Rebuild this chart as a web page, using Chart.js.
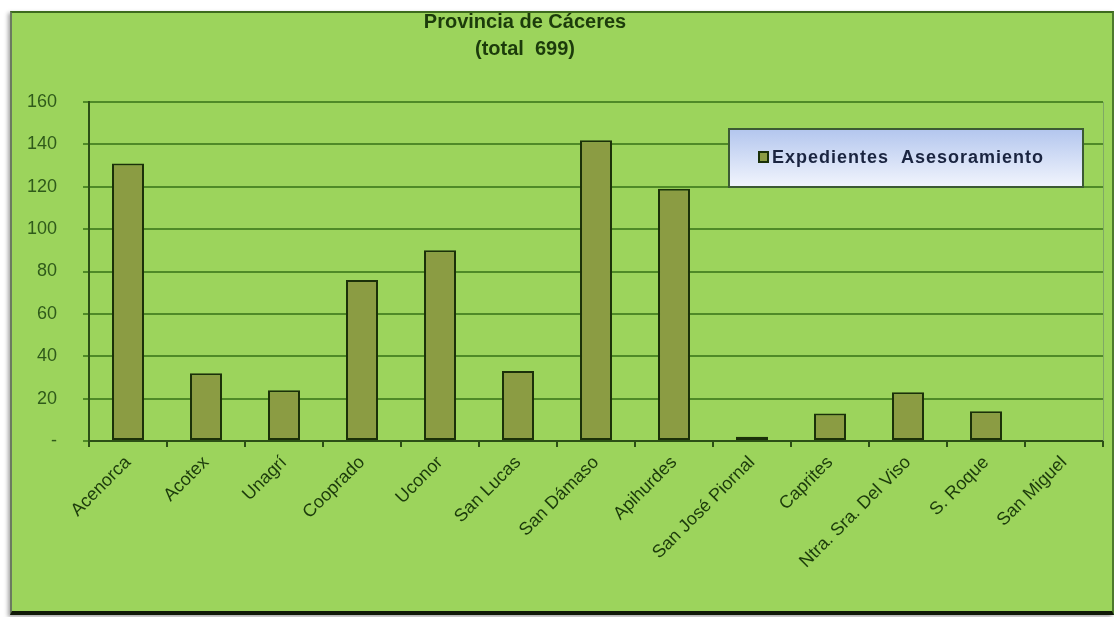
<!DOCTYPE html>
<html>
<head>
<meta charset="utf-8">
<script src="https://cdn.jsdelivr.net/npm/chart.js@4.4.1/dist/chart.umd.min.js"></script>
<style>
  body { margin: 0; background: #ffffff; }
  #panel {
    position: absolute; left: 10px; top: 11px;
    width: 1100px; height: 598px;
    background: #9cd45c;
    border-top: 2px solid #3d6a1e;
    border-left: 2px solid #6b7a60;
    border-right: 2px solid #4c7a2c;
    border-bottom: 4px solid #111a08;
    box-shadow: -2px 2px 4px rgba(0,0,0,0.35);
  }
  #wrap { position: relative; width: 1100px; height: 598px; }
</style>
</head>
<body>
<div id="panel"><div id="wrap"><canvas id="chart"></canvas></div></div>
<script>
// Chart data
const categories = ['Acenorca', 'Acotex', 'Unagrí', 'Cooprado', 'Uconor', 'San Lucas', 'San Dámaso',
    'Apihurdes', 'San José Piornal', 'Caprites', 'Ntra. Sra. Del Viso', 'S. Roque', 'San Miguel'];
const expedientes = [131, 32, 24, 76, 90, 33, 142, 119, 2, 13, 23, 14, 0];
const seriesName = 'Expedientes  Asesoramiento';
const titleLines = ['Provincia de Cáceres', '(total  699)'];
const yMax = 160;
const yStep = 20;

const textGreen = '#1c3b0b';
const gridGreen = '#4f8a27';
const barFill = '#8b9c43';
const barBorder = '#1b3009';

// Title, legend box and right frame line drawn on the canvas
const panelText = {
    id: 'panelText',
    beforeDatasetsDraw(chart) {
        const ctx = chart.ctx;
        const a = chart.chartArea;
        ctx.save();
        ctx.strokeStyle = '#7fa865';
        ctx.lineWidth = 1;
        ctx.beginPath();
        ctx.moveTo(a.right + 0.5, a.top);
        ctx.lineTo(a.right + 0.5, a.bottom);
        ctx.stroke();
        ctx.restore();
    },
    afterDraw(chart) {
        const ctx = chart.ctx;
        const a = chart.chartArea;
        ctx.save();
        // title
        ctx.fillStyle = textGreen;
        ctx.font = 'bold 20px "Liberation Sans", Arial, sans-serif';
        ctx.textAlign = 'center';
        ctx.textBaseline = 'middle';
        ctx.fillText(titleLines[0], 513, 9);
        ctx.fillText(titleLines[1], 513, 36);

        // legend box
        const bx = a.right - 374, by = a.top + 27, bw = 354, bh = 58;
        const grad = ctx.createLinearGradient(0, by, 0, by + bh);
        grad.addColorStop(0, '#b3c6ee');
        grad.addColorStop(1, '#f2f5fd');
        ctx.fillStyle = grad;
        ctx.fillRect(bx, by, bw, bh);
        ctx.strokeStyle = '#3c5a34';
        ctx.lineWidth = 2;
        ctx.strokeRect(bx, by, bw, bh);

        ctx.fillStyle = barFill;
        ctx.fillRect(bx + 30, by + 23, 9, 10);
        ctx.strokeStyle = barBorder;
        ctx.lineWidth = 2;
        ctx.strokeRect(bx + 30, by + 23, 9, 10);

        ctx.fillStyle = '#1a2440';
        ctx.font = 'bold 18px "Liberation Sans", Arial, sans-serif';
        ctx.letterSpacing = '1px';
        ctx.textAlign = 'left';
        ctx.fillText(chart.data.datasets[0].label, bx + 43, by + 29);
        ctx.restore();
    }
};

new Chart(document.getElementById('chart'), {
    type: 'bar',
    data: {
        labels: categories,
        datasets: [{
            label: seriesName,
            data: expedientes,
            backgroundColor: barFill,
            borderColor: barBorder,
            borderWidth: 2,
            borderSkipped: false,
            categoryPercentage: 1,
            barPercentage: 0.41
        }]
    },
    options: {
        responsive: true,
        maintainAspectRatio: false,
        animation: false,
        layout: { padding: { top: 89, right: 9, left: 0, bottom: 0 } },
        plugins: {
            legend: { display: false },
            title: { display: false },
            tooltip: { enabled: false }
        },
        scales: {
            x: {
                afterFit: s => { s.height = 170; },
                grid: { drawOnChartArea: false, color: '#2c4f16', lineWidth: 2, tickLength: 6, offset: true },
                border: { color: '#2c4f16', width: 2 },
                ticks: {
                    color: textGreen,
                    font: { family: '"Liberation Sans", Arial, sans-serif', size: 18 },
                    maxRotation: 45, minRotation: 45,
                    padding: 5,
                    autoSkip: false
                }
            },
            y: {
                min: 0, max: yMax,
                afterFit: s => { s.width = 77; },
                grid: { color: gridGreen, lineWidth: 2, tickLength: 6 },
                border: { color: '#2c4f16', width: 2 },
                ticks: {
                    stepSize: yStep,
                    color: '#2f5a1a',
                    padding: 26,
                    font: { family: '"Liberation Sans", Arial, sans-serif', size: 18 },
                    callback: v => v === 0 ? '-' : v
                }
            }
        }
    },
    plugins: [panelText]
});
</script>
</body>
</html>
